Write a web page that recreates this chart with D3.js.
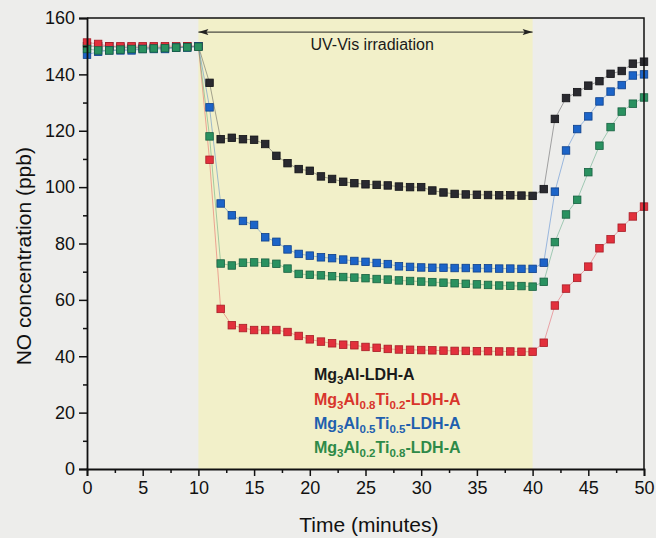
<!DOCTYPE html>
<html>
<head>
<meta charset="utf-8">
<script src="https://cdn.jsdelivr.net/npm/d3@7"></script>
<style>
  body { margin: 0; background: #ededeb; font-family: "Liberation Sans", Arial, sans-serif; }
  svg { display: block; }
</style>
</head>
<body>
<div id="chart"></div>
<script>
// 1: DATA (one point per minute)
const time = [0,1,2,3,4,5,6,7,8,9,10,11,12,13,14,15,16,17,18,19,20,21,22,23,24,25,26,27,28,29,30,
  31,32,33,34,35,36,37,38,39,40,41,42,43,44,45,46,47,48,49,50];

const mg3Al = [150,150,150,149.5,149.5,149.5,149.5,149.5,149.5,150,150,
  137,117,117.5,117,116.8,115.3,111.1,108.5,106.4,105.8,103.8,102.9,101.9,101.4,101,100.8,100.6,100.2,100,100,
  98.8,98.1,97.6,97.4,97.3,97.2,97.1,97.1,97,96.9,
  99.3,124.2,131.6,133.7,136,137.6,140.2,141.2,143.8,144.5];

const mg3Al08Ti02 = [151.3,150.8,150,150,150,150,150,150,150,150,150,
  109.7,56.8,51,50,49.3,49.3,49.3,48.6,47.2,46,45.2,44.6,44.1,43.9,43.3,43,42.6,42.4,42.3,42.2,
  42.1,42,41.9,41.9,41.8,41.8,41.7,41.7,41.6,41.6,
  44.8,58,64,67.8,71.8,78.3,81.5,85.6,89.6,93.1];

const mg3Al05Ti05 = [147,148,148.5,148.5,148.5,149,149,149,149.5,149.5,150,
  128.3,94.2,90,88,86.6,82.2,80.6,77.9,76.3,75.7,75.1,74.8,74.3,73.8,73.5,73.1,72.7,71.9,71.7,71.5,
  71.4,71.4,71.3,71.3,71.2,71.2,71.1,71.1,71,71,
  73.2,98.4,113,120.6,125.1,130.4,133.9,136.2,139.6,140];

const mg3Al02Ti08 = [149,148.5,148.5,148.8,149,149,149.2,149.3,149.5,149.6,149.8,
  118,72.9,72.2,73.2,73.3,73.2,72.8,71.1,69.2,68.9,68.7,68.4,68.1,67.9,67.7,67.4,67.2,66.9,66.7,66.5,
  66.3,66.1,65.9,65.7,65.5,65.3,65.1,65,64.9,64.7,
  66.4,80.5,90.3,95.5,105.3,114.7,121.3,126.8,129.6,131.8];

const xTicks = [0,5,10,15,20,25,30,35,40,45,50];
const yTicks = [0,20,40,60,80,100,120,140,160];
const irradiation = [10, 40];

// legend labels: [text, subscript?] pieces
const seriesNames = [
  [["Mg",0],["3",1],["Al-LDH-A",0]],
  [["Mg",0],["3",1],["Al",0],["0.8",1],["Ti",0],["0.2",1],["-LDH-A",0]],
  [["Mg",0],["3",1],["Al",0],["0.5",1],["Ti",0],["0.5",1],["-LDH-A",0]],
  [["Mg",0],["3",1],["Al",0],["0.2",1],["Ti",0],["0.8",1],["-LDH-A",0]]
];
const seriesValues = [mg3Al, mg3Al08Ti02, mg3Al05Ti05, mg3Al02Ti08];
const fills   = ["#2a2a30", "#e2303c", "#1c64c8", "#2a9160"];
const strokes = ["#111115", "#a81c26", "#0d3f8a", "#176040"];
const textCols = ["#1a1a1a", "#d8352c", "#1f5fae", "#2e8a48"];

// 2: SETUP
const W = 656, H = 538;
const margin = { top: 18, right: 12, bottom: 69, left: 87 };
const width = W - margin.left - margin.right;
const height = H - margin.top - margin.bottom;

const svg = d3.select("#chart").append("svg")
  .attr("width", W).attr("height", H);

const g = svg.append("g")
  .attr("transform", `translate(${margin.left},${margin.top})`);

const x = d3.scaleLinear().domain([0, 50]).range([0, width]);
const y = d3.scaleLinear().domain([0, 160]).range([height, 0]);

// 3: IRRADIATION BAND
g.append("rect")
  .attr("x", x(irradiation[0]))
  .attr("y", 0)
  .attr("width", x(irradiation[1]) - x(irradiation[0]))
  .attr("height", height)
  .attr("fill", "#f2f0c9");

// arrow
const defs = svg.append("defs");
defs.append("marker")
  .attr("id", "head")
  .attr("viewBox", "0 0 10 6")
  .attr("refX", 10).attr("refY", 3)
  .attr("markerWidth", 11).attr("markerHeight", 6)
  .attr("markerUnits", "userSpaceOnUse")
  .attr("orient", "auto-start-reverse")
  .append("path").attr("d", "M0,0 L10,3 L0,6 L2,3 Z").attr("fill", "#222");

g.append("line")
  .attr("x1", x(irradiation[0])).attr("x2", x(irradiation[1]))
  .attr("y1", y(155)).attr("y2", y(155))
  .attr("stroke", "#222").attr("stroke-width", 1)
  .attr("marker-start", "url(#head)")
  .attr("marker-end", "url(#head)");

g.append("text")
  .attr("x", x(25.6)).attr("y", y(155) + 18)
  .attr("text-anchor", "middle")
  .style("font-size", "16px")
  .attr("fill", "#1a1a1a")
  .text("UV-Vis irradiation");

// 4: SERIES
const line = d3.line()
  .x((d, i) => x(time[i]))
  .y(d => y(d));

seriesValues.forEach((vals, k) => {
  g.append("path")
    .datum(vals)
    .attr("fill", "none")
    .attr("stroke", fills[k])
    .attr("stroke-opacity", 0.4)
    .attr("stroke-width", 1)
    .attr("d", line);
});

const sz = 7.5;
seriesValues.forEach((vals, k) => {
  g.append("g").selectAll("rect")
    .data(vals)
    .join("rect")
    .attr("x", (d, i) => x(time[i]) - sz / 2)
    .attr("y", d => y(d) - sz / 2)
    .attr("width", sz).attr("height", sz)
    .attr("fill", fills[k])
    .attr("stroke", strokes[k])
    .attr("stroke-width", 0.8);
});

// 5: FRAME + AXES
g.append("path")
  .attr("d", `M0,0 H${width} V${height}`)
  .attr("fill", "none")
  .attr("stroke", "#111")
  .attr("stroke-width", 1.5);

g.append("g")
  .attr("transform", `translate(0,${height})`)
  .call(d3.axisBottom(x).tickValues(xTicks).tickSize(7).tickPadding(5).tickFormat(d3.format("d")));
// minor x ticks
g.append("g")
  .attr("transform", `translate(0,${height})`)
  .call(d3.axisBottom(x).tickValues(xTicks.slice(0, -1).map(v => v + 2.5)).tickSize(4).tickFormat(""))
  .call(a => a.select(".domain").remove());

g.append("g")
  .call(d3.axisLeft(y).tickValues(yTicks).tickSize(8).tickPadding(4).tickFormat(d3.format("d")));
g.append("g")
  .call(d3.axisLeft(y).tickValues(yTicks.slice(0, -1).map(v => v + 10)).tickSize(4).tickFormat(""))
  .call(a => a.select(".domain").remove());

g.selectAll(".tick line").attr("stroke", "#111").attr("stroke-width", 1.5);
g.selectAll(".domain").attr("stroke", "#111").attr("stroke-width", 1.8);
g.selectAll(".tick text")
  .style("font-size", "18px")
  .style("font-family", "'Liberation Sans', Arial, sans-serif")
  .attr("fill", "#111");

// axis titles
g.append("text")
  .attr("x", x(25.3)).attr("y", height + 63)
  .attr("text-anchor", "middle")
  .style("font-size", "21px")
  .attr("fill", "#111")
  .text("Time (minutes)");

g.append("text")
  .attr("transform", "rotate(-90)")
  .attr("x", -(y(75.5)))
  .attr("y", -margin.left + 31)
  .attr("text-anchor", "middle")
  .style("font-size", "21px")
  .attr("fill", "#111")
  .text("NO concentration (ppb)");

// 6: LEGEND (text only)
const legendY = [380, 405, 429, 453];
seriesNames.forEach((parts, k) => {
  const t = svg.append("text")
    .attr("x", 314).attr("y", legendY[k])
    .style("font-size", "16px")
    .style("font-weight", "bold")
    .attr("fill", textCols[k]);
  let shifted = 0;
  parts.forEach(([s, sub]) => {
    const dy = (sub ? 4 : 0) - shifted;
    shifted = sub ? 4 : 0;
    t.append("tspan")
      .attr("dy", dy)
      .style("font-size", sub ? "11.5px" : "16px")
      .text(s);
  });
});
</script>
</body>
</html>
